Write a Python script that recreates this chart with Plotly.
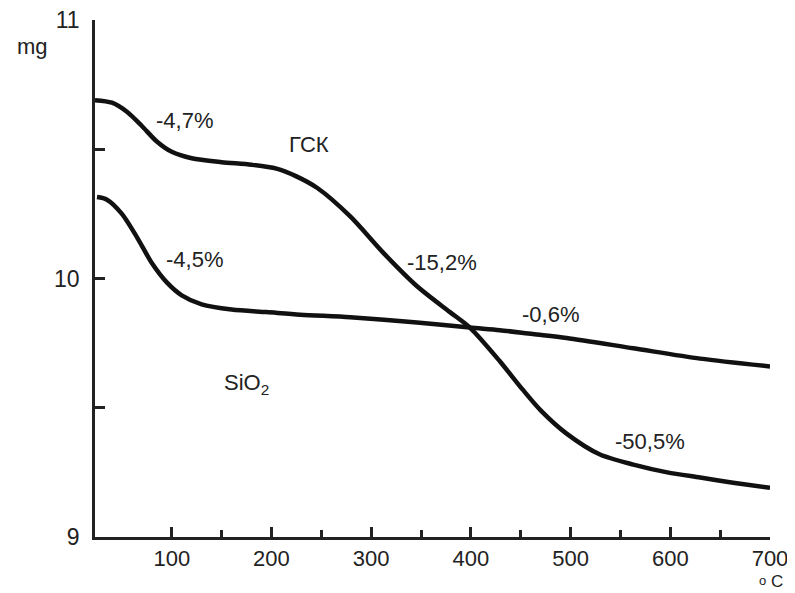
import plotly.graph_objects as go

# ГСК curve (temperature °C, mass mg)
gsk_t = [23, 40, 55, 70, 85, 100, 120, 150, 180, 205, 225, 246, 279, 312, 346, 379, 399, 429, 452, 470, 496, 529, 563, 597, 630, 663, 700]
gsk_m = [10.69, 10.68, 10.645, 10.59, 10.53, 10.49, 10.465, 10.45, 10.44, 10.425, 10.395, 10.35, 10.24, 10.10, 9.97, 9.87, 9.81, 9.68, 9.57, 9.49, 9.40, 9.32, 9.28, 9.25, 9.23, 9.21, 9.19]

# SiO2 curve
sio2_t = [25, 35, 50, 65, 80, 95, 110, 130, 160, 195, 229, 279, 346, 399, 429, 462, 496, 563, 630, 700]
sio2_m = [10.315, 10.305, 10.25, 10.16, 10.06, 9.985, 9.935, 9.90, 9.88, 9.87, 9.86, 9.85, 9.83, 9.81, 9.80, 9.785, 9.77, 9.73, 9.69, 9.66]

x_ticks = [100, 200, 300, 400, 500, 600, 700]
x_minor = [150, 250, 350, 450, 550, 650]
y_ticks = [9, 9.5, 10, 10.5, 11]
y_labels = ["9", "", "10", "", "11"]

# labels: (text, x, y)
labels = [
    ("-4,7%", 113, 10.61),
    ("ГСК", 238, 10.52),
    ("-15,2%", 371, 10.06),
    ("-4,5%", 123, 10.075),
    ("SiO<sub>2</sub>", 175, 9.59),
    ("-0,6%", 480, 9.86),
    ("-50,5%", 580, 9.37),
]

FONT = "Liberation Sans, Arial, sans-serif"
INK = "#222222"

fig = go.Figure()
fig.add_trace(go.Scatter(x=gsk_t, y=gsk_m, mode="lines",
                         line=dict(color="#111111", width=4.5, shape="spline", smoothing=0.8), showlegend=False))
fig.add_trace(go.Scatter(x=sio2_t, y=sio2_m, mode="lines",
                         line=dict(color="#111111", width=4.5, shape="spline", smoothing=0.8), showlegend=False))

for txt, xv, yv in labels:
    fig.add_annotation(x=xv, y=yv, text=txt, showarrow=False, xanchor="center", yanchor="middle",
                       font=dict(family=FONT, size=22, color=INK))

fig.add_annotation(x=-0.093, y=0.948, xref="paper", yref="paper", text="mg", showarrow=False,
                   xanchor="center", yanchor="middle", font=dict(family=FONT, size=22, color=INK))
fig.add_annotation(x=0.9896, y=-0.0832, xref="paper", yref="paper", text="o", showarrow=False,
                   xanchor="center", yanchor="middle", borderpad=0, font=dict(family=FONT, size=13, color=INK))
fig.add_annotation(x=1.0104, y=-0.087, xref="paper", yref="paper", text="C", showarrow=False,
                   xanchor="center", yanchor="middle", borderpad=0, font=dict(family=FONT, size=17, color=INK))

# page body has an 8px default margin: figure is sized to fill the rest of the window
fig.update_layout(
    width=787, height=585,
    margin=dict(l=87, r=25, t=12, b=56, autoexpand=False),
    paper_bgcolor="white", plot_bgcolor="white",
    xaxis=dict(range=[23, 700], tickvals=x_ticks, showgrid=False, zeroline=False,
               showline=True, linecolor=INK, linewidth=2.5, automargin=False,
               ticks="inside", ticklen=10, tickwidth=2.5, tickcolor=INK,
               ticklabeloverflow="allow",
               minor=dict(tickvals=x_minor, ticks="inside", ticklen=7, tickwidth=2.5, tickcolor=INK),
               tickfont=dict(family=FONT, size=22, color=INK)),
    yaxis=dict(range=[9, 11], tickvals=y_ticks, ticktext=y_labels, showgrid=False, zeroline=False,
               showline=True, linecolor=INK, linewidth=2.5, automargin=False,
               ticks="inside", ticklen=10, tickwidth=2.5, tickcolor=INK,
               ticklabeloverflow="allow", ticklabelstandoff=8,
               tickfont=dict(family=FONT, size=23, color=INK)),
)

fig.write_html("out.html")
